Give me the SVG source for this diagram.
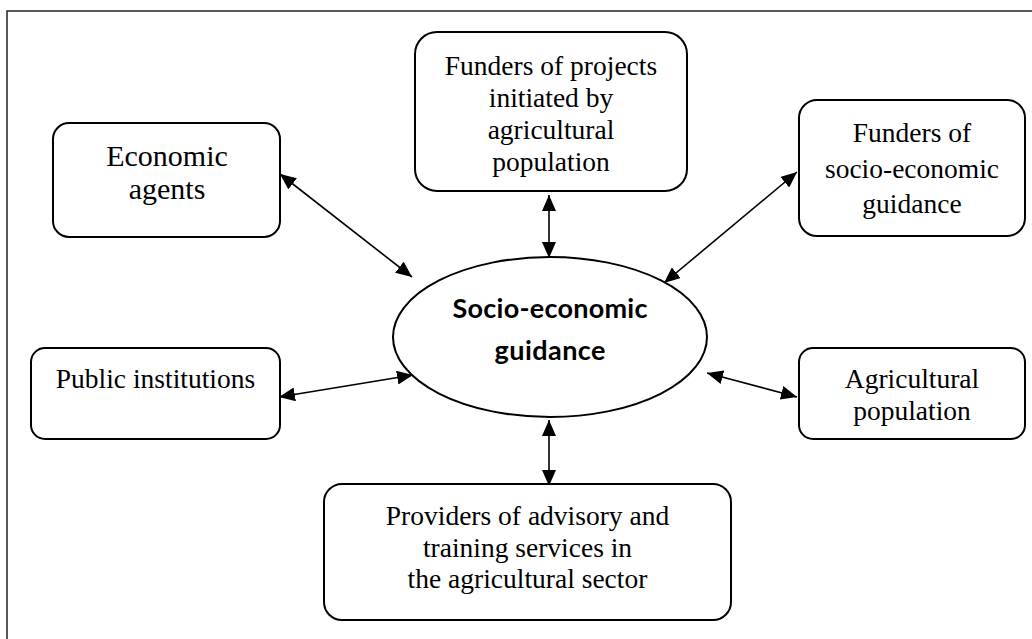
<svg xmlns="http://www.w3.org/2000/svg" width="1032" height="639" viewBox="0 0 1032 639">
  <style>
    .frame { fill: none; stroke: #222; stroke-width: 1.5; }
    .box { fill: #fff; stroke: #000; stroke-width: 2; }
    .lbl { font-family: "Liberation Serif", "Times New Roman", serif; font-size: 27.5px; fill: #000; text-anchor: middle; }
    .big { font-size: 30px; }
    .hub { font-family: Lato, "Liberation Sans", sans-serif; font-weight: bold; font-size: 27px; fill: #000; text-anchor: middle; }
    .link { stroke: #000; stroke-width: 1.6; fill: none; marker-start: url(#head); marker-end: url(#head); }
  </style>
  <defs>
    <marker id="head" markerUnits="userSpaceOnUse" markerWidth="17" markerHeight="14" refX="16" refY="7" orient="auto-start-reverse">
      <path d="M0,0 L16,7 L0,14 Z" fill="#000"/>
    </marker>
  </defs>

  <rect class="frame" x="7" y="11" width="1040" height="640"/>

  <g id="connectors">
    <line class="link" x1="280" y1="174" x2="412" y2="277"/>
    <line class="link" x1="549" y1="195" x2="549" y2="258"/>
    <line class="link" x1="797" y1="172" x2="664" y2="283"/>
    <line class="link" x1="279" y1="397" x2="413" y2="375"/>
    <line class="link" x1="707" y1="373" x2="797" y2="397"/>
    <line class="link" x1="549" y1="420" x2="549" y2="486"/>
  </g>

  <g id="hub">
    <ellipse class="box" cx="550" cy="337" rx="157" ry="80" stroke-width="1.6"/>
    <text class="hub" x="550" y="318" textLength="195">Socio-economic</text>
    <text class="hub" x="550" y="360" textLength="111">guidance</text>
  </g>

  <g id="economic-agents">
    <rect class="box" x="53" y="123" width="227" height="114" rx="16"/>
    <text class="lbl big" x="167" y="166">Economic</text>
    <text class="lbl big" x="167" y="199">agents</text>
  </g>

  <g id="project-funders">
    <rect class="box" x="415" y="32" width="272" height="159" rx="22"/>
    <text class="lbl" x="551" y="75">Funders of projects</text>
    <text class="lbl" x="551" y="107">initiated by</text>
    <text class="lbl" x="551" y="139">agricultural</text>
    <text class="lbl" x="551" y="171">population</text>
  </g>

  <g id="guidance-funders">
    <rect class="box" x="799" y="100" width="226" height="136" rx="18"/>
    <text class="lbl" x="912" y="142">Funders of</text>
    <text class="lbl" x="912" y="178">socio-economic</text>
    <text class="lbl" x="912" y="213">guidance</text>
  </g>

  <g id="public-institutions">
    <rect class="box" x="31" y="348" width="249" height="91" rx="14"/>
    <text class="lbl" x="155.5" y="388">Public institutions</text>
  </g>

  <g id="agricultural-population">
    <rect class="box" x="799" y="348" width="226" height="91" rx="14"/>
    <text class="lbl" x="912" y="388">Agricultural</text>
    <text class="lbl" x="912" y="420">population</text>
  </g>

  <g id="service-providers">
    <rect class="box" x="324" y="484" width="407" height="136" rx="18"/>
    <text class="lbl" x="527.5" y="525">Providers of advisory and</text>
    <text class="lbl" x="527.5" y="557">training services in</text>
    <text class="lbl" x="527.5" y="588">the agricultural sector</text>
  </g>
</svg>
